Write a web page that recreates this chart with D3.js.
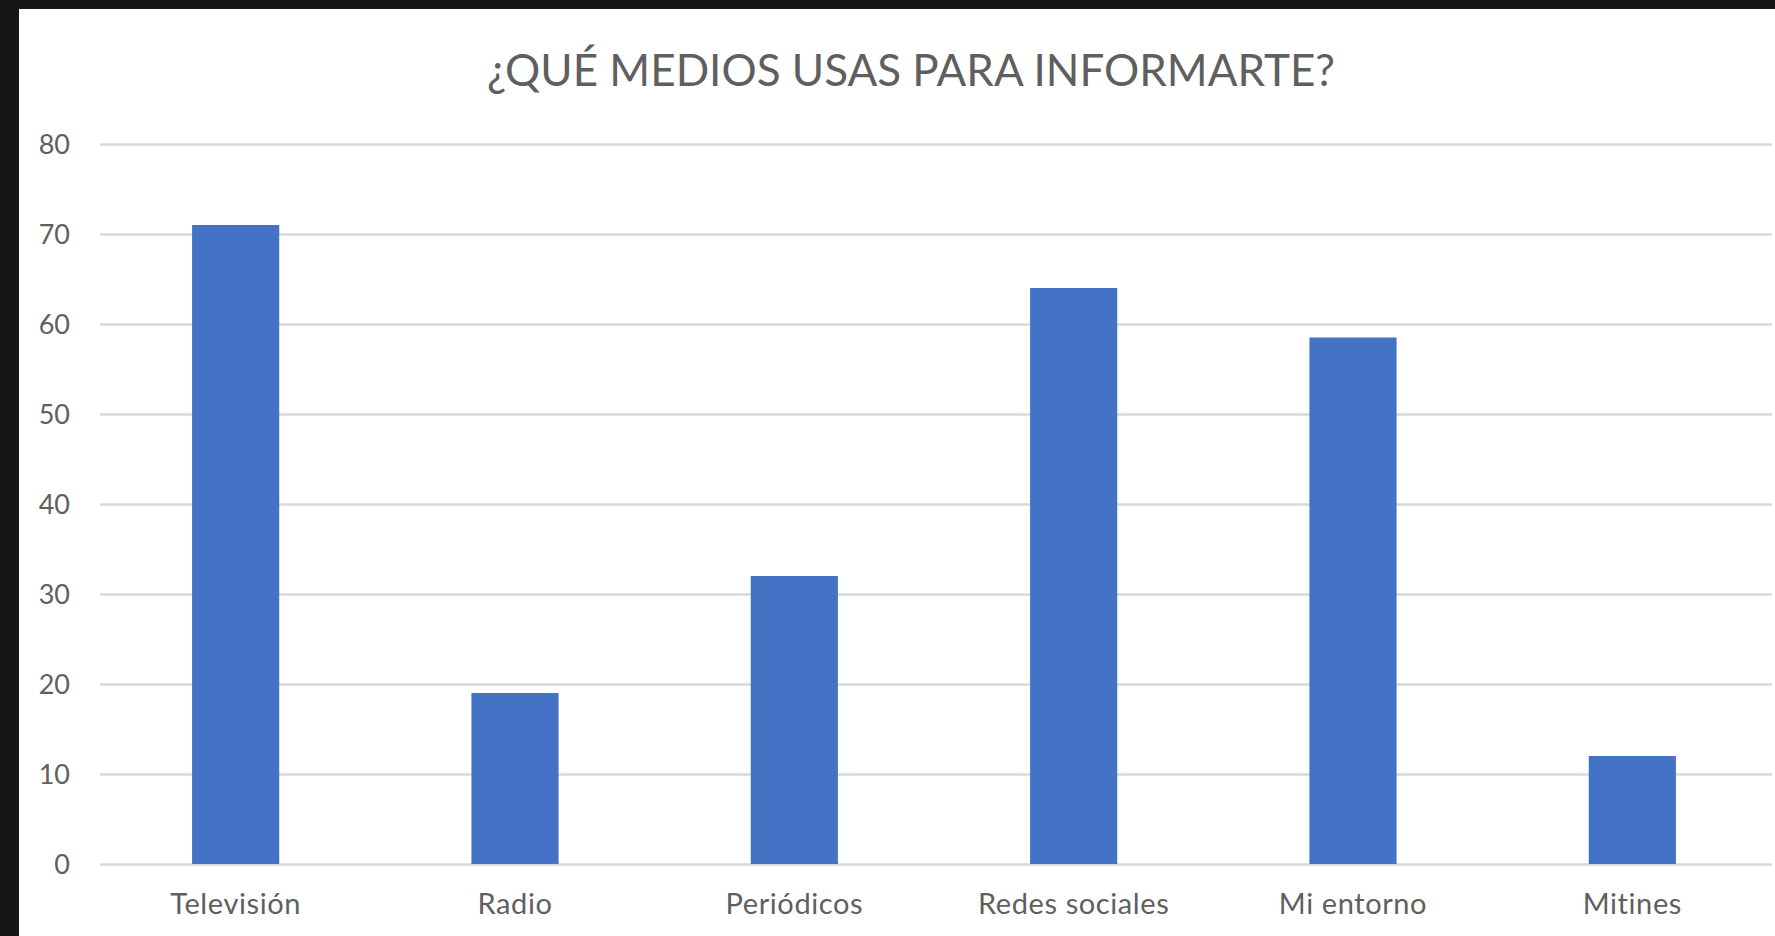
<!DOCTYPE html>
<html>
<head>
<meta charset="utf-8" />
<title>¿Qué medios usas para informarte?</title>
<style>
html, body {
    padding: 0px;
    margin: 0px;
    background: #161616;
}
svg text {
    font-family: Lato, "Open Sans", sans-serif;
    fill: #5f5f5f;
}
</style>
</head>
<body>
<svg id="chart" width="1775" height="936"></svg>

<script src="https://cdn.jsdelivr.net/npm/d3@7"></script>
<script>
!(function(){
    "use strict"

    var categories = ["Televisión", "Radio", "Periódicos", "Redes sociales", "Mi entorno", "Mitines"]
    var values = [71, 19, 32, 64, 58.5, 12]
    var yTicks = [0, 10, 20, 30, 40, 50, 60, 70, 80]
    var title = "¿QUÉ MEDIOS USAS PARA INFORMARTE?"

    var W = 1775, H = 936
    var margin = {top: 144, right: 3, bottom: 72, left: 100}

    var svg = d3.select("#chart")

    // white chart area inside the dark frame
    svg.append("rect")
        .attr("x", 19).attr("y", 9)
        .attr("width", W - 19).attr("height", H - 9)
        .attr("fill", "#ffffff")

    var x = d3.scaleBand()
        .domain(categories)
        .range([margin.left - 4, W - margin.right])
        .paddingInner(0.688)
        .paddingOuter(0.344)

    var y = d3.scaleLinear()
        .domain([0, 80])
        .range([H - margin.bottom, margin.top])

    // gridlines
    var yAxis = d3.axisLeft(y)
        .tickValues(yTicks)
        .tickSize(-(W - margin.right - margin.left))
        .tickPadding(30)

    var gy = svg.append("g")
        .attr("transform", "translate(" + margin.left + ",0)")
        .call(yAxis)
    gy.select(".domain").remove()
    gy.selectAll(".tick line")
        .attr("stroke", "#d9d9d9")
        .attr("stroke-width", 2.5)
    gy.selectAll(".tick text")
        .attr("font-size", 27)
        .attr("dy", "0.36em")

    // bars
    svg.append("g").selectAll("rect")
        .data(values)
        .enter()
        .append("rect")
        .attr("x", function(d, i){ return x(categories[i]) })
        .attr("width", x.bandwidth())
        .attr("y", function(d){ return y(d) })
        .attr("height", function(d){ return y(0) - y(d) })
        .attr("fill", "#4472c4")

    // category labels
    var xAxis = d3.axisBottom(x).tickSize(0).tickPadding(29)
    var gx = svg.append("g")
        .attr("transform", "translate(0," + y(0) + ")")
        .call(xAxis)
    gx.select(".domain").remove()
    gx.selectAll(".tick text")
        .attr("font-size", 29)
        .attr("letter-spacing", 0.6)
        .attr("dy", "0.71em")

    // title
    svg.append("text")
        .attr("x", 911)
        .attr("y", 86)
        .attr("text-anchor", "middle")
        .attr("font-size", 44)
        .text(title)

}());
</script>
</body>
</html>
